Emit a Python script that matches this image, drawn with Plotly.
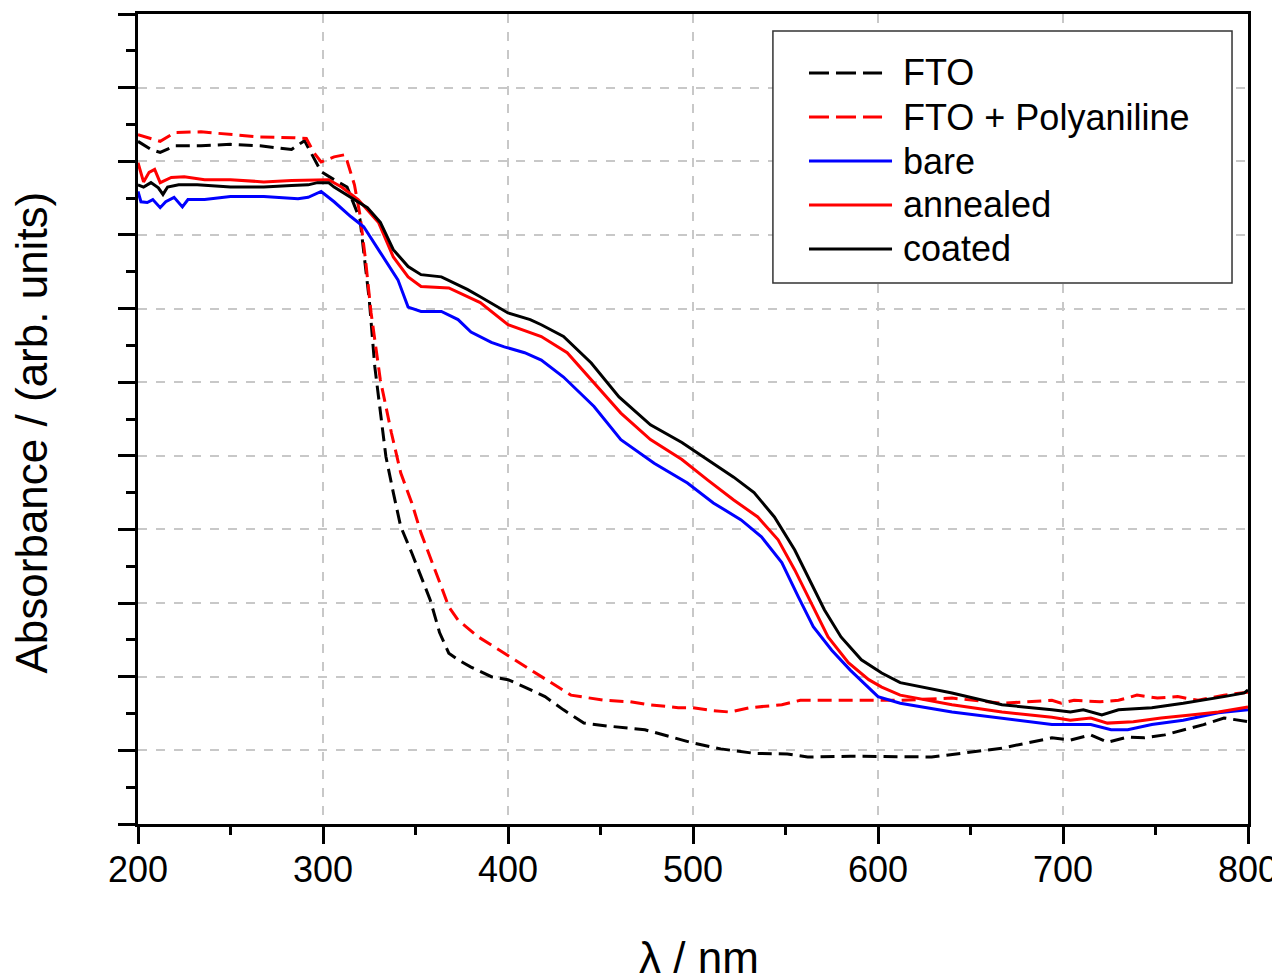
import plotly.graph_objects as go

# wavelength (nm) and absorbance (arb. units)
fto_x = [200, 207, 212, 220, 234, 250, 266, 283, 290, 299, 306, 313, 320, 325, 328, 331, 334, 338, 342, 348,
         353, 358, 363, 368, 373, 380, 391, 400, 409, 420, 430, 441, 454, 474, 490, 500, 515, 533, 551, 562,
         585, 612, 629, 645, 667, 694, 704, 715, 724, 735, 744, 755, 765, 776, 787, 796, 800]
fto_y = [9.27, 9.16, 9.12, 9.21, 9.21, 9.23, 9.21, 9.16, 9.28, 8.86, 8.75, 8.65, 8.21, 7.12, 6.21, 5.63, 4.99, 4.50, 4.04, 3.68,
         3.36, 3.04, 2.60, 2.32, 2.23, 2.13, 2.00, 1.96, 1.86, 1.73, 1.55, 1.37, 1.33, 1.28, 1.17, 1.10, 1.02, 0.96, 0.95, 0.91,
         0.92, 0.92, 0.91, 0.96, 1.03, 1.17, 1.14, 1.21, 1.11, 1.18, 1.17, 1.21, 1.28, 1.35, 1.44, 1.41, 1.39]

pani_x = [200, 212, 220, 234, 252, 266, 284, 291, 295, 299, 306, 312, 317, 320, 323, 326, 331, 337, 342, 348,
          353, 358, 364, 368, 373, 384, 398, 412, 423, 434, 452, 466, 476, 492, 500, 511, 520, 531, 548, 558,
          585, 612, 640, 667, 694, 699, 706, 720, 730, 740, 751, 762, 773, 787, 800]
pani_y = [9.36, 9.27, 9.39, 9.40, 9.36, 9.33, 9.32, 9.31, 9.12, 8.99, 9.06, 9.09, 8.68, 8.27, 7.66, 6.94, 6.03, 5.31, 4.77, 4.36,
          3.95, 3.63, 3.22, 2.95, 2.77, 2.54, 2.32, 2.09, 1.92, 1.75, 1.68, 1.66, 1.62, 1.58, 1.58, 1.54, 1.52, 1.58, 1.62, 1.68,
          1.68, 1.68, 1.71, 1.64, 1.68, 1.64, 1.68, 1.66, 1.68, 1.75, 1.71, 1.73, 1.68, 1.75, 1.79]

bare_x = [200, 201.6, 205, 208, 212, 215, 219.5, 224, 227, 236, 250, 268, 286.5, 292, 299, 306, 315, 322, 331, 340.5,
          346, 353, 364, 373, 380, 391, 398, 409, 418, 430, 446.5, 461, 479, 497, 511, 526, 537, 548, 557, 565,
          575, 585, 600, 612, 640, 667, 694, 704, 715, 726, 735, 748, 765, 784, 800]
bare_y = [8.59, 8.45, 8.44, 8.48, 8.37, 8.45, 8.51, 8.38, 8.48, 8.48, 8.52, 8.52, 8.49, 8.51, 8.59, 8.45, 8.25, 8.11, 7.76, 7.39,
          7.02, 6.96, 6.96, 6.85, 6.68, 6.54, 6.48, 6.40, 6.30, 6.07, 5.67, 5.22, 4.90, 4.63, 4.36, 4.13, 3.90, 3.55, 3.08, 2.68,
          2.36, 2.09, 1.73, 1.64, 1.52, 1.44, 1.35, 1.35, 1.35, 1.28, 1.28, 1.35, 1.41, 1.51, 1.55]

annealed_x = [200, 203, 206, 209, 212, 218, 225, 236, 250, 268, 283, 292, 303, 310, 319, 330, 338, 346, 353, 368,
              378, 385, 400, 412, 418, 432, 446.5, 461, 477, 494, 508, 522, 535, 546, 555, 564, 573, 584, 595, 602,
              612, 640, 667, 694, 704, 715, 724, 738, 753, 769, 784, 800]
annealed_y = [8.98, 8.72, 8.85, 8.89, 8.71, 8.78, 8.79, 8.75, 8.75, 8.72, 8.74, 8.74, 8.75, 8.65, 8.48, 8.17, 7.70, 7.43, 7.30, 7.28,
              7.16, 7.08, 6.78, 6.67, 6.62, 6.40, 5.99, 5.58, 5.22, 4.95, 4.67, 4.40, 4.17, 3.86, 3.45, 3.00, 2.54, 2.19, 1.96, 1.86,
              1.75, 1.62, 1.52, 1.45, 1.41, 1.44, 1.37, 1.39, 1.44, 1.48, 1.52, 1.59]

coated_x = [200, 203, 207, 211, 213.5, 216, 222, 232, 250, 268, 283, 292, 297, 303, 306, 311, 317, 324, 331, 338,
            346, 353, 364, 371, 378, 385, 400, 412, 418, 430, 445, 460, 477, 494, 508, 522, 533, 544, 555, 562,
            571, 580, 591, 602, 612, 640, 667, 694, 704, 711, 721, 730, 748, 765, 776, 787, 798, 800]
coated_y = [8.68, 8.65, 8.71, 8.64, 8.55, 8.65, 8.68, 8.68, 8.65, 8.65, 8.67, 8.68, 8.71, 8.71, 8.65, 8.57, 8.48, 8.37, 8.17, 7.80,
            7.57, 7.46, 7.43, 7.35, 7.26, 7.16, 6.94, 6.85, 6.78, 6.62, 6.26, 5.80, 5.42, 5.18, 4.95, 4.71, 4.50, 4.17, 3.72, 3.36,
            2.91, 2.54, 2.23, 2.05, 1.92, 1.78, 1.62, 1.55, 1.52, 1.55, 1.48, 1.55, 1.58, 1.64, 1.68, 1.73, 1.78, 1.82]

FONT = "Liberation Sans, Arial, sans-serif"
DASH = "14px,7px"

series = [
    ("FTO", fto_x, fto_y, "black", DASH),
    ("FTO + Polyaniline", pani_x, pani_y, "#ff0000", DASH),
    ("bare", bare_x, bare_y, "#0000ff", "solid"),
    ("annealed", annealed_x, annealed_y, "#ff0000", "solid"),
    ("coated", coated_x, coated_y, "black", "solid"),
]

fig = go.Figure()

for name, xs, ys, color, dash in series:
    fig.add_trace(go.Scatter(
        x=xs, y=ys, name=name, mode="lines",
        line=dict(color=color, width=3, dash=dash),
    ))

# legend drawn by hand in paper coords so the box and sample lines match the original
shapes = [dict(type="rect", xref="paper", yref="paper", x0=0.572, x1=0.9856, y0=0.668, y1=0.979,
               line=dict(color="#333333", width=1.5), fillcolor="white", layer="above")]
annotations = []
row_y = [0.9272, 0.8728, 0.8185, 0.7642, 0.7099]
for (name, xs, ys, color, dash), ry in zip(series, row_y):
    if dash == "solid":
        x_end, ldash = 0.6793, "solid"
    else:
        x_end, ldash = 0.6703, "20px,7px"
    shapes.append(dict(type="line", xref="paper", yref="paper", x0=0.6045, x1=x_end, y0=ry, y1=ry,
                       line=dict(color=color, width=3, dash=ldash), layer="above"))
    annotations.append(dict(xref="paper", yref="paper", x=0.6874, y=ry, xanchor="left", yanchor="middle",
                            text=name, showarrow=False, font=dict(family=FONT, size=36, color="black")))

# axis titles as annotations (standoff is ignored without automargin)
annotations.append(dict(xref="paper", yref="paper", x=0.505, y=-0.1654, xanchor="center", yanchor="middle",
                        text="λ / nm", showarrow=False, font=dict(family=FONT, size=44, color="black")))
annotations.append(dict(xref="paper", yref="paper", x=-0.0955, y=0.4833, xanchor="center", yanchor="middle",
                        text="Absorbance / (arb. units)", textangle=-90, showarrow=False,
                        font=dict(family=FONT, size=44, color="black")))

# page body has an 8px margin, so the figure is a bit smaller than the window
fig.update_layout(
    width=1272, height=969,
    margin=dict(l=130, r=32, t=6, b=153),
    plot_bgcolor="white",
    paper_bgcolor="white",
    font=dict(family=FONT, size=36, color="black"),
    showlegend=False,
    shapes=shapes,
    annotations=annotations,
)

fig.update_xaxes(
    range=[200, 800], dtick=100, tick0=200,
    showline=True, linewidth=3, linecolor="black", mirror=True,
    ticks="outside", ticklen=17, tickwidth=3, tickcolor="black",
    tickfont=dict(family=FONT, size=36, color="black"), ticklabelstandoff=-5,
    minor=dict(ticks="outside", ticklen=8, tickwidth=3, tickcolor="black", dtick=50, showgrid=False),
    showgrid=True, gridcolor="#c8c8c8", gridwidth=1.5, griddash="dash",
    zeroline=False, automargin=False,
)

fig.update_yaxes(
    range=[0, 11], dtick=1, tick0=0,
    showline=True, linewidth=3, linecolor="black", mirror=True,
    ticks="outside", ticklen=17, tickwidth=3, tickcolor="black",
    showticklabels=False,
    minor=dict(ticks="outside", ticklen=9, tickwidth=3, tickcolor="black", dtick=0.5, showgrid=False),
    showgrid=True, gridcolor="#c8c8c8", gridwidth=1.5, griddash="dash",
    zeroline=False, automargin=False,
)

fig.write_html("out.html")
